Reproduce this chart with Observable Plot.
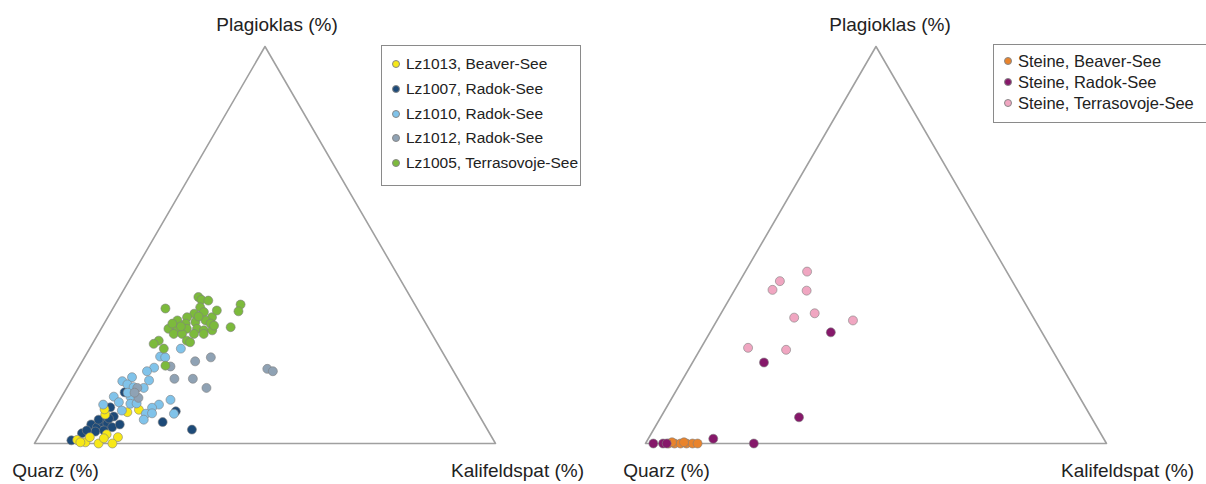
<!DOCTYPE html>
<html><head><meta charset="utf-8">
<script src="https://cdn.jsdelivr.net/npm/d3@7"></script>
<script src="https://cdn.jsdelivr.net/npm/@observablehq/plot@0.6"></script>
<style>
body{margin:0;background:#fff;font-family:"Liberation Sans",Arial,sans-serif;}
#wrap{position:relative;width:1206px;height:484px;overflow:hidden;}
.panel{position:absolute;top:0;}
.legend{position:absolute;border:1px solid #8a8a8a;background:#fff;color:#222;box-sizing:border-box;}
.item{position:absolute;white-space:nowrap;display:flex;align-items:center;}
.sw{display:inline-block;width:8px;height:8px;border-radius:50%;margin-right:6px;border:0.5px solid #888;box-sizing:border-box;}
</style></head><body><div id="wrap"></div>
<script>
// Ternary data: [Plagioklas %, Kalifeldspat %]; Quarz = 100 - P - K
const lz1013 = [[7.3,11.7],[7.9,16.2],[8.5,18.4],[2.3,14.5],[1.6,17.3],[0.9,8.8],[0.3,10.9],[1.6,11.2],[0,13.9],[0,16.9],[8.6,10.9],[0.3,9.8],[1.3,14.4]];
const lz1007 = [[12.9,13.1],[9.1,11.9],[6.8,13.8],[8.1,26.6],[5.4,25.1],[3.5,32.4],[4.8,9.9],[4.1,11.5],[5.4,12.0],[5.0,13.3],[4.1,14.8],[4.8,16.1],[3.3,13.4],[2.6,9.0],[0.8,7.6],[6.0,10.9],[6.3,13.0],[3.0,11.7],[3.3,9.7]];
const lz1010 = [[23.9,19.8],[21.9,16.3],[21.7,17.5],[19.1,16.4],[18.2,15.3],[15.9,16.9],[16.7,12.8],[15.7,11.2],[14.9,12.7],[14.2,14.4],[14.0,16.7],[11.8,11.3],[11.8,14.9],[9.8,10.0],[10.4,13.1],[10.0,15.8],[8.3,14.8],[9.8,22.1],[9.0,21.0],[11.0,24.0],[7.5,20.4],[7.6,21.7],[6.0,20.7],[7.5,26.5],[10.1,17.1],[12.8,13.8]];
const lz1012 = [[20.7,24.5],[21.7,27.4],[19.4,19.8],[16.3,22.2],[16.3,26.2],[14.0,30.3],[18.8,41.1],[18.2,42.6],[14.0,15.3],[11.5,16.8],[12.8,15.3]];
const lz1005 = [[34.0,11.4],[36.9,17.1],[36.2,18.1],[35.0,27.2],[33.3,27.6],[29.3,27.9],[34.3,18.8],[32.7,18.3],[33.1,20.2],[31.8,22.6],[31.8,17.2],[31.0,15.5],[30.2,17.7],[30.6,19.6],[31.0,21.6],[30.2,23.1],[28.9,14.6],[28.9,16.5],[28.9,18.6],[28.9,20.8],[28.5,22.5],[28.5,24.3],[27.6,16.4],[27.6,18.2],[27.6,20.8],[27.6,22.9],[25.9,20.1],[25.5,21.0],[25.9,14.0],[25.1,13.3],[23.9,16.1],[19.6,18.6],[33.5,22.8],[29.5,17.0],[32.0,19.6],[30.2,14.8],[36.0,19.7],[29.7,24.1]];
const steineBeaver = [[0,5.0],[0,6.3],[0,7.6],[0,8.9],[0,10.2],[0,11.3],[0.3,5.6],[0.3,8.2]];
const steineRadok = [[28.0,26.2],[20.4,15.5],[6.6,30.0],[1.2,14.1],[0,23.5],[0,1.7],[0,3.8],[0,4.6]];
const steineTerrasovoje = [[43.3,13.4],[40.9,8.7],[38.7,8.2],[38.5,15.7],[32.8,20.3],[31.7,16.4],[31.0,29.5],[24.1,10.2],[23.6,18.7]];

const leftSeries = [
  {name:"Lz1013, Beaver-See", color:"#f7e817", data:lz1013},
  {name:"Lz1007, Radok-See", color:"#1d4a78", data:lz1007},
  {name:"Lz1010, Radok-See", color:"#80c3ea", data:lz1010},
  {name:"Lz1012, Radok-See", color:"#8fa2b4", data:lz1012},
  {name:"Lz1005, Terrasovoje-See", color:"#7cba3c", data:lz1005}
];
const rightSeries = [
  {name:"Steine, Beaver-See", color:"#e9832b", data:steineBeaver},
  {name:"Steine, Radok-See", color:"#86186a", data:steineRadok},
  {name:"Steine, Terrasovoje-See", color:"#f0a6c1", data:steineTerrasovoje}
];
const drawOrder = [1,0,2,3,4];
const corners = [{P:0,K:0,label:"Quarz (%)"},{P:0,K:100,label:"Kalifeldspat (%)"},{P:100,K:0,label:"Plagioklas (%)"}];

const S3 = Math.sqrt(3)/2;
const tx = d => d.K + d.P/2;
const ty = d => d.P*S3;

function rows(series){
  return series.flatMap(s => s.data.map(([P,K]) => ({P, K, Q:100-P-K, series:s.name})));
}

function panel(series, order, mLeft, mRight, left, topDx, qDx, kDx){
  const all = rows(order.map(i => series[i]));
  const outline = [corners[0], corners[1], corners[2], corners[0]];
  const fs = 19;
  const chart = Plot.plot({
    width: 603, height: 484,
    marginLeft: mLeft, marginRight: mRight, marginTop: 46, marginBottom: 41,
    x: {domain:[0,100], axis:null},
    y: {domain:[0,100*S3], axis:null},
    color: {domain: series.map(s=>s.name), range: series.map(s=>s.color)},
    style: {fontFamily:'"Liberation Sans", Arial, sans-serif', background:"#fff"},
    marks: [
      Plot.line(outline, {x: tx, y: ty, stroke:"#a0a0a0", strokeWidth:1.6}),
      Plot.dot(all, {x: tx, y: ty, fill:"series", stroke:"#7f7f7f", strokeWidth:0.6, r:4.5}),
      Plot.text([corners[2]], {x: tx, y: ty, text:"label", dx: topDx, dy: -22, fontSize: fs, fill:"#222"}),
      Plot.text([corners[0]], {x: tx, y: ty, text:"label", dx: qDx, dy: 27, fontSize: fs, fill:"#222"}),
      Plot.text([corners[1]], {x: tx, y: ty, text:"label", dx: kDx, dy: 27, fontSize: fs, fill:"#222"})
    ]
  });
  chart.classList.add("panel");
  chart.style.left = left + "px";
  return chart;
}

function legend(series, left, top, width, height, firstY, step, dotX, fontSize){
  const box = document.createElement("div");
  box.className = "legend";
  Object.assign(box.style, {left:left+"px", top:top+"px", width:width+"px", height:height+"px", fontSize:fontSize+"px"});
  series.forEach((s,i) => {
    const it = document.createElement("div");
    it.className = "item";
    Object.assign(it.style, {left:(dotX-left-4)+"px", top:(firstY - top + i*step - 10)+"px", height:"20px"});
    const sw = document.createElement("span");
    sw.className = "sw"; sw.style.background = s.color;
    const t = document.createElement("span"); t.textContent = s.name;
    it.append(sw, t);
    box.append(it);
  });
  return box;
}

const wrap = document.getElementById("wrap");
wrap.append(panel(leftSeries, drawOrder, 34, 108, 0, 12, 21, 22));
wrap.append(panel(rightSeries, [0,1,2], 42, 100, 603, 14, 21, 21));
wrap.append(legend(leftSeries, 381, 45, 200, 141, 63, 24.8, 395, 15.5));
wrap.append(legend(rightSeries, 993, 44, 214, 79, 60, 21, 1007, 16.5));
</script></body></html>
